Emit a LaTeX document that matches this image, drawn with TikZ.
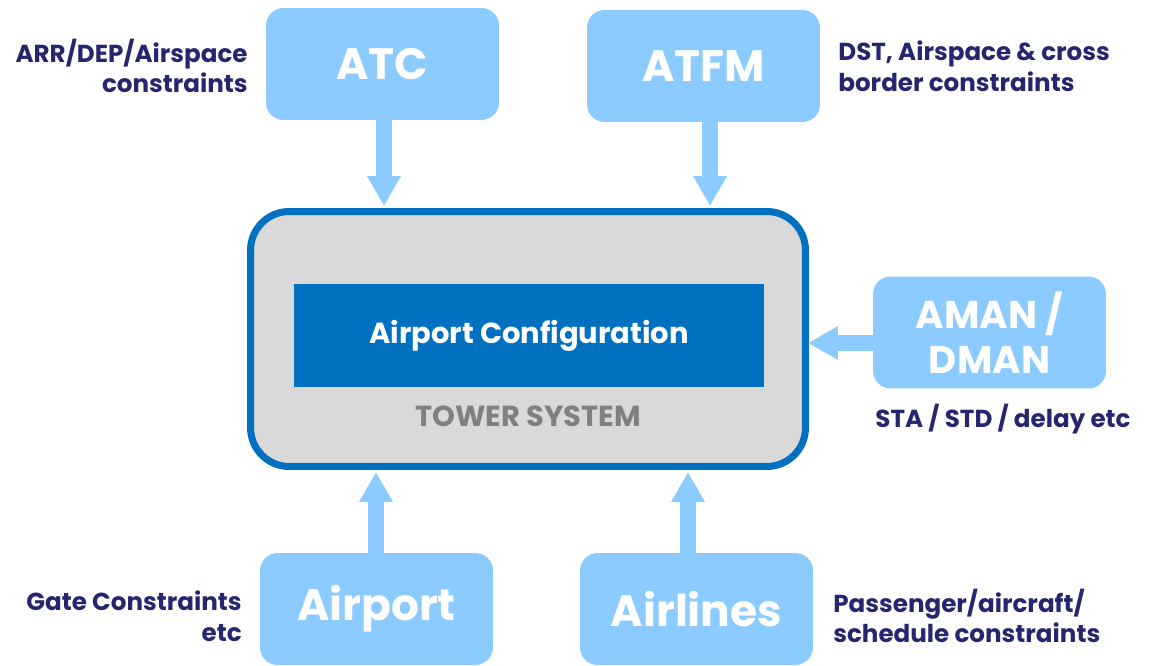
\documentclass[tikz,border=0pt]{standalone}
\usepackage{fontspec}
\setmainfont{Poppins}
\usepackage{tikz}
\usetikzlibrary{arrows.meta, positioning}
\definecolor{boxblue}{RGB}{139,203,255}
\definecolor{deepblue}{RGB}{0,112,192}
\definecolor{towergray}{RGB}{217,217,217}
\definecolor{labelnavy}{RGB}{38,38,110}
\definecolor{towertext}{RGB}{128,128,128}
\tikzset{
  srcbox/.style={rectangle, fill=boxblue, text=white,
    minimum width=4.66cm, minimum height=2.24cm, align=center,
    font=\fontsize{25}{28}\selectfont\bfseries, rounded corners=10pt},
  tower/.style={rectangle, draw=deepblue, fill=towergray,
    minimum width=11.1cm, minimum height=5.1cm,
    rounded corners=22pt, line width=4pt},
  config/.style={rectangle, fill=deepblue, text=white,
    minimum width=9.4cm, minimum height=2.06cm,
    font=\fontsize{16.5}{20}\selectfont\bfseries},
  infolabel/.style={text=labelnavy, font=\fontsize{14}{17.5}\selectfont\bfseries,
    inner sep=0pt},
  feed/.style={-{Triangle[width=18pt, length=17pt]}, line width=9pt, color=boxblue}
}
\begin{document}
\begin{tikzpicture}[x=0.02cm, y=-0.02cm]
  \useasboundingbox (0,0) rectangle (1151,665);

  % central tower system
  \node[tower] (tower) at (528,339) {};
  \node[config] (cfg) at (529,335.5) {Airport Configuration};
  \node[font=\fontsize{16.5}{18}\selectfont\bfseries, text=towertext] (twr) at (528,416) {TOWER SYSTEM};

  % feeding systems
  \node[srcbox] (atc) at (382.5,64) {ATC};
  \node[srcbox] (atfm) at (703.5,66) {ATFM};
  \node[srcbox, font=\fontsize{22}{26}\selectfont\bfseries] (aman) at (989.5,332.5) {AMAN /\\DMAN};
  \node[srcbox] (apt) at (376.5,609) {Airport};
  \node[srcbox] (air) at (696.5,609) {Airlines};

  % constraint labels
  \node[infolabel, align=right, anchor=east] (atclbl) at (248,66) {ARR/DEP/Airspace\\constraints};
  \node[infolabel, align=left, anchor=west] (atfmlbl) at (838,66) {DST, Airspace \& cross\\border constraints};
  \node[infolabel] (amanlbl) at (1003,419) {STA / STD / delay etc};
  \node[infolabel, align=right, anchor=east] (aptlbl) at (242,616) {Gate Constraints\\etc};
  \node[infolabel, align=left, anchor=west] (airlbl) at (833,616) {Passenger/aircraft/\\schedule constraints};

  % arrows into the tower
  \draw[feed] (atc.south -| 384,0) -- (384,206);
  \draw[feed] (atfm.south -| 710,0) -- (710,206);
  \draw[feed] (aman.west |- 0,343) -- (808,343);
  \draw[feed] (apt.north -| 376,0) -- (376,472);
  \draw[feed] (air.north -| 688,0) -- (688,472);
\end{tikzpicture}
\end{document}
